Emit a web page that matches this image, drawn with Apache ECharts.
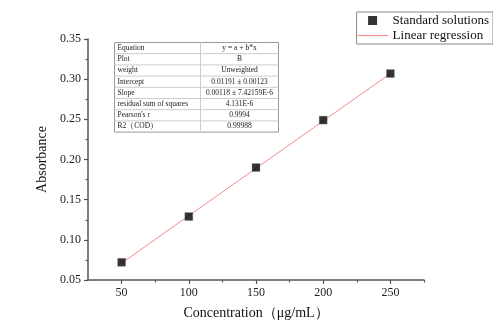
<!DOCTYPE html>
<html>
<head>
<meta charset="utf-8">
<script src="https://cdn.jsdelivr.net/npm/echarts@6/dist/echarts.min.js"></script>
<style>
  html, body { margin: 0; padding: 0; background: #fff; }
  #chart { width: 493px; height: 336px; }
</style>
</head>
<body>
<div id="chart"></div>
<script>
// data
const concentrations = [50, 100, 150, 200, 250]
const absorbance = [0.072, 0.129, 0.190, 0.249, 0.307]
const fitX = [50, 250]
const fitY = [0.071, 0.307]
const xMajorTicks = [50, 100, 150, 200, 250]
const xMinorTicks = [75, 125, 175, 225, 275]
const tableLabels = ['Equation', 'Plot', 'weight', 'Intercept', 'Slope', 'residual sum of squares', "Pearson's r", 'R2（COD）']
const tableValues = ['y = a + b*x', 'B', 'Unweighted', '0.01191 ± 0.00123', '0.00118 ± 7.42159E-6', '4.131E-6', '0.9994', '0.99988']

const serif = "'Liberation Serif', 'DejaVu Serif', serif"
const axisColor = '#555'
const fitColor = '#f28b8b'

// 拟合参数表格
const buildTable = () => {
  const left = 112, top = 40, width = 164, rowH = 11.2, splitX = 86
  const children = [{
    type: 'rect',
    shape: { x: 0, y: 0, width: width, height: rowH * tableLabels.length },
    style: { fill: '#fff', stroke: '#999', lineWidth: 1 }
  }]
  tableLabels.forEach((label, i) => {
    if (i > 0) {
      children.push({
        type: 'line',
        shape: { x1: 0, y1: i * rowH, x2: width, y2: i * rowH },
        style: { stroke: '#ccc', lineWidth: 1 }
      })
    }
    children.push({
      type: 'text',
      style: { text: label, x: 3, y: i * rowH + rowH / 2, verticalAlign: 'middle', font: '7.5px ' + serif, fill: '#222' }
    })
    children.push({
      type: 'text',
      style: { text: tableValues[i], x: (splitX + width) / 2, y: i * rowH + rowH / 2, align: 'center', verticalAlign: 'middle', font: '7.5px ' + serif, fill: '#222' }
    })
  })
  children.push({
    type: 'line',
    shape: { x1: splitX, y1: 0, x2: splitX, y2: rowH * tableLabels.length },
    style: { stroke: '#ccc', lineWidth: 1 }
  })
  return { type: 'group', left: left, top: top, children: children }
}

const chart = echarts.init(document.getElementById('chart'), null, { renderer: 'canvas' })

chart.setOption({
  backgroundColor: '#fff',
  animation: false,
  grid: { left: 88, right: 69, top: 39, bottom: 56 },
  legend: {
    right: 0,
    top: 12,
    orient: 'vertical',
    itemGap: 2,
    itemWidth: 30,
    itemHeight: 9,
    padding: [2, 4, 2, 1],
    borderColor: '#888',
    borderWidth: 1,
    lineStyle: { width: 1 },
    textStyle: { fontFamily: serif, fontSize: 13, color: '#111' },
    data: [
      { name: 'Standard solutions', icon: 'path://M0,0h10v10h-10z', itemStyle: { color: '#000', borderWidth: 0 } },
      { name: 'Linear regression', icon: 'path://M0,4.8h10v0.4h-10z', itemStyle: { color: fitColor, borderWidth: 0 }, lineStyle: { width: 1 } }
    ]
  },
  xAxis: [{
    type: 'value',
    min: 25,
    max: 275,
    name: 'Concentration（μg/mL）',
    nameLocation: 'middle',
    nameGap: 26,
    nameTextStyle: { fontFamily: serif, fontSize: 14, color: '#111' },
    splitLine: { show: false },
    axisLine: { lineStyle: { color: axisColor, width: 1.5 } },
    axisTick: { customValues: xMajorTicks, length: 4, lineStyle: { color: axisColor, width: 1.2 } },
    axisLabel: { customValues: xMajorTicks, fontFamily: serif, fontSize: 12, color: '#222', margin: 7 }
  }, {
    type: 'value',
    position: 'bottom',
    min: 25,
    max: 275,
    splitLine: { show: false },
    axisLine: { show: false },
    axisTick: { customValues: xMinorTicks, length: 2.5, lineStyle: { color: axisColor, width: 1.2 } },
    axisLabel: { show: false }
  }],
  yAxis: {
    type: 'value',
    min: 0.05,
    max: 0.35,
    interval: 0.05,
    name: 'Absorbance',
    nameLocation: 'middle',
    nameGap: 35,
    nameRotate: 90,
    nameTextStyle: { fontFamily: serif, fontSize: 14, color: '#111' },
    splitLine: { show: false },
    axisLine: { show: true, lineStyle: { color: axisColor, width: 1.5 } },
    axisTick: { show: true, length: 4, lineStyle: { color: axisColor, width: 1.2 } },
    minorTick: { show: true, splitNumber: 2, length: 2.5, lineStyle: { color: axisColor, width: 1.2 } },
    axisLabel: {
      fontFamily: serif, fontSize: 12, color: '#222', margin: 7,
      formatter: (v) => v.toFixed(2)
    }
  },
  series: [{
    name: 'Linear regression',
    type: 'line',
    data: fitX.map((x, i) => [x, fitY[i]]),
    symbol: 'none',
    z: 2,
    lineStyle: { color: fitColor, width: 1 },
    itemStyle: { color: fitColor }
  }, {
    name: 'Standard solutions',
    type: 'scatter',
    data: concentrations.map((x, i) => [x, absorbance[i]]),
    symbol: 'rect',
    symbolSize: 8,
    z: 3,
    itemStyle: { color: '#000', borderColor: '#888', borderWidth: 0.4 }
  }],
  graphic: [buildTable()]
})
</script>
</body>
</html>
